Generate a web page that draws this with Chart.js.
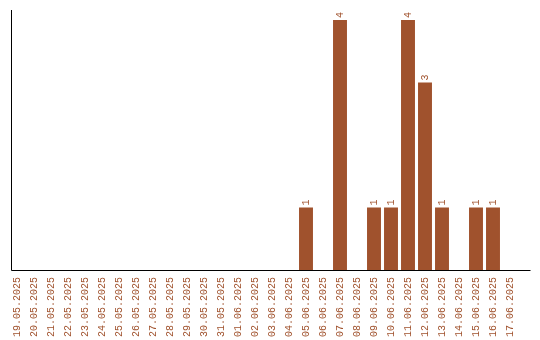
<!DOCTYPE html>
<html>
<head>
<meta charset="utf-8">
<script src="https://cdn.jsdelivr.net/npm/chart.js@4/dist/chart.umd.min.js"></script>
<style>
  html, body { margin: 0; padding: 0; background: #fff; }
  canvas { display: block; }
</style>
</head>
<body>
<canvas id="chart" width="540" height="340"></canvas>
<script>
const dates = [
  '19.05.2025', '20.05.2025', '21.05.2025', '22.05.2025', '23.05.2025',
  '24.05.2025', '25.05.2025', '26.05.2025', '27.05.2025', '28.05.2025',
  '29.05.2025', '30.05.2025', '31.05.2025', '01.06.2025', '02.06.2025',
  '03.06.2025', '04.06.2025', '05.06.2025', '06.06.2025', '07.06.2025',
  '08.06.2025', '09.06.2025', '10.06.2025', '11.06.2025', '12.06.2025',
  '13.06.2025', '14.06.2025', '15.06.2025', '16.06.2025', '17.06.2025'
];
const counts = [
  0, 0, 0, 0, 0, 0, 0, 0, 0, 0,
  0, 0, 0, 0, 0, 0, 0, 1, 0, 4,
  0, 1, 1, 4, 3, 1, 0, 1, 1, 0
];
const yMax = 4.16;

const brown = '#a0522d';
const monoFont = { family: "'Liberation Mono', 'DejaVu Sans Mono', monospace", size: 10 };

// axis lines: the vertical one sits a little right of the first category,
// the horizontal one runs past the last one
const axisLines = {
  id: 'axisLines',
  afterDraw(chart) {
    const { ctx, chartArea } = chart;
    const x0 = Math.round(chartArea.left + 2) + 0.5;
    const y0 = Math.round(chartArea.bottom) + 0.5;
    ctx.save();
    ctx.strokeStyle = '#000';
    ctx.lineWidth = 1;
    ctx.beginPath();
    ctx.moveTo(x0, chartArea.top);
    ctx.lineTo(x0, y0);
    ctx.lineTo(chartArea.right + 12, y0);
    ctx.stroke();
    ctx.restore();
  }
};

// rotated value labels above non-empty bars
const valueLabels = {
  id: 'valueLabels',
  afterDatasetsDraw(chart) {
    const { ctx } = chart;
    const meta = chart.getDatasetMeta(0);
    ctx.save();
    ctx.fillStyle = brown;
    ctx.font = '10px ' + monoFont.family;
    ctx.textAlign = 'left';
    ctx.textBaseline = 'middle';
    meta.data.forEach((bar, i) => {
      if (!counts[i]) return;
      ctx.save();
      ctx.translate(bar.x, bar.y - 2);
      ctx.rotate(-Math.PI / 2);
      ctx.fillText(String(counts[i]), 0, 0);
      ctx.restore();
    });
    ctx.restore();
  }
};

new Chart(document.getElementById('chart'), {
  type: 'bar',
  data: {
    labels: dates,
    datasets: [{
      data: counts,
      backgroundColor: brown,
      borderWidth: 0,
      categoryPercentage: 1,
      barPercentage: 0.82
    }]
  },
  options: {
    responsive: false,
    animation: false,
    layout: { padding: { left: 8.5, right: 21.5, top: 10, bottom: 0 } },
    plugins: {
      legend: { display: false },
      tooltip: { enabled: false }
    },
    scales: {
      x: {
        offset: true,
        grid: { display: false, drawTicks: false },
        border: { display: false },
        ticks: {
          color: brown,
          font: monoFont,
          minRotation: 90,
          maxRotation: 90,
          autoSkip: false,
          padding: 7
        },
        afterFit(scale) { scale.height = 70; }
      },
      y: {
        display: false,
        min: 0,
        max: yMax
      }
    }
  },
  plugins: [axisLines, valueLabels]
});
</script>
</body>
</html>
